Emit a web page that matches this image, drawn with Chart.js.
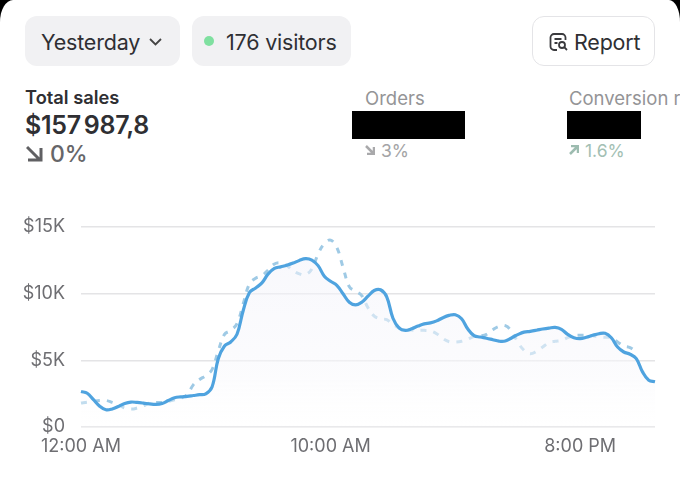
<!DOCTYPE html>
<html>
<head>
<meta charset="utf-8">
<title>Total sales</title>
<script src="https://cdn.jsdelivr.net/npm/chart.js@4"></script>
<style>
  html, body { margin: 0; padding: 0; background: #000; }
  #page {
    position: relative; width: 680px; height: 481px; overflow: hidden; background: #fff;
    border-top-left-radius: 13px 22px; border-top-right-radius: 11px 22px;
    font-family: Inter, "Noto Sans", sans-serif; color: #2f2f33;
  }
  .abs { position: absolute; white-space: nowrap; }
  .pill { background: #f1f1f3; border-radius: 12px; height: 50px; top: 16px; }
  .btn { left: 532px; top: 16px; width: 121px; height: 48px; border: 1px solid #e4e4e7; border-radius: 12px; }
  .pilltext { font-size: 21.5px; line-height: 50px; top: 17px; letter-spacing: -0.2px; }
  .head { font-size: 18.5px; line-height: 22px; top: 87px; color: #949496; }
  .delta { font-size: 17.5px; line-height: 22px; top: 140px; }
  .black { background: #000; top: 111px; height: 28px; }
  #chartbox { position: absolute; left: 0; top: 200px; width: 680px; height: 281px; }
</style>
</head>
<body>
<div id="page">
  <div class="abs pill" style="left:25px;width:155px"></div>
  <div class="abs pill" style="left:192px;width:159px"></div>
  <div class="abs btn"></div>
  <div class="abs pilltext" style="left:41px">Yesterday</div>
  <svg class="abs" style="left:148px;top:37px" width="15" height="10" viewBox="0 0 15 10"><path d="M2 2l5.5 5.5L13 2" fill="none" stroke="#444" stroke-width="1.8"/></svg>
  <div class="abs" style="left:204px;top:36px;width:10px;height:10px;border-radius:50%;background:#7fe0a0"></div>
  <div class="abs pilltext" style="left:226px">176 visitors</div>
  <svg class="abs" style="left:549px;top:32px" width="20" height="20" viewBox="0 0 20 20" fill="none" stroke="#3a3a3e" stroke-width="1.8">
    <path d="M8 18H5a3.500 3.500 0 0 1-3.500-3.500v-9A3.500 3.500 0 0 1 5 2h8a3.500 3.500 0 0 1 3.500 3.500V8"/>
    <path d="M5.500 7h7M5.500 11h3"/><circle cx="13" cy="13" r="3"/><path d="M15.200 15.200l2.800 2.800"/>
  </svg>
  <div class="abs pilltext" style="left:574px">Report</div>

  <div class="abs" style="left:25px;top:86px;font-size:18.300px;line-height:22px;font-weight:600">Total sales</div>
  <div class="abs" style="left:25px;top:111px;font-size:25px;line-height:28px;font-weight:600;letter-spacing:-0.3px;word-spacing:-3px">$157 987,8</div>
  <svg class="abs" style="left:26px;top:145px" width="17" height="17" viewBox="0 0 17 17" fill="none" stroke="#606063" stroke-width="3"><path d="M1 2l13 13M15 3v12H2"/></svg>
  <div class="abs" style="left:50px;top:140px;font-size:23px;line-height:28px;font-weight:500;color:#666669">0%</div>

  <div class="abs head" style="left:365px">Orders</div>
  <div class="abs black" style="left:352px;width:113px"></div>
  <svg class="abs" style="left:365px;top:145px" width="10" height="10" viewBox="0 0 10 10" fill="none" stroke="#a9a9ab" stroke-width="2.500"><path d="M1 1l7 7M9 2v7H2"/></svg>
  <div class="abs delta" style="left:381px;color:#a4a4a6">3%</div>

  <div class="abs head" style="left:569px">Conversion rate</div>
  <div class="abs black" style="left:567px;width:74px"></div>
  <svg class="abs" style="left:569px;top:145px" width="10" height="10" viewBox="0 0 10 10" fill="none" stroke="#9dbcb0" stroke-width="2.500"><path d="M1 9l7-7M2 1h7v7"/></svg>
  <div class="abs delta" style="left:585px;color:#a3bfb4">1.6%</div>

  <div id="chartbox"><canvas id="salesChart"></canvas></div>
</div>
<script>
const times = [
  "12:00 AM","12:15 AM","12:30 AM","12:45 AM","1:00 AM","1:15 AM","1:30 AM","1:45 AM",
  "2:00 AM","2:15 AM","2:30 AM","2:45 AM","3:00 AM","3:15 AM","3:30 AM","3:45 AM",
  "4:00 AM","4:15 AM","4:30 AM","4:45 AM","5:00 AM","5:15 AM","5:30 AM","5:45 AM",
  "6:00 AM","6:15 AM","6:30 AM","6:45 AM","7:00 AM","7:15 AM","7:30 AM","7:45 AM",
  "8:00 AM","8:15 AM","8:30 AM","8:45 AM","9:00 AM","9:15 AM","9:30 AM","9:45 AM",
  "10:00 AM","10:15 AM","10:30 AM","10:45 AM","11:00 AM","11:15 AM","11:30 AM","11:45 AM",
  "12:00 PM","12:15 PM","12:30 PM","12:45 PM","1:00 PM","1:15 PM","1:30 PM","1:45 PM",
  "2:00 PM","2:15 PM","2:30 PM","2:45 PM","3:00 PM","3:15 PM","3:30 PM","3:45 PM",
  "4:00 PM","4:15 PM","4:30 PM","4:45 PM","5:00 PM","5:15 PM","5:30 PM","5:45 PM",
  "6:00 PM","6:15 PM","6:30 PM","6:45 PM","7:00 PM","7:15 PM","7:30 PM","7:45 PM",
  "8:00 PM","8:15 PM","8:30 PM","8:45 PM","9:00 PM","9:15 PM","9:30 PM","9:45 PM",
  "10:00 PM","10:15 PM","10:30 PM","10:45 PM","11:00 PM"
];
const shownTimes = ["12:00 AM", "10:00 AM", "8:00 PM"];

// values in dollars
const yesterday = [
  2660,2530,2050,1560,1290,1350,1540,1760,1870,1840,1790,1730,
  1690,1760,1990,2190,2260,2300,2360,2420,2490,3000,5120,6070,
  6370,6950,8730,10070,10420,10800,11470,11880,12000,12120,12280,12480,
  12610,12510,12090,11300,10920,10620,9980,9350,9150,9350,9800,10230,
  10280,9750,8150,7410,7240,7360,7560,7730,7800,7950,8190,8360,
  8410,8110,7340,6850,6740,6650,6540,6430,6440,6670,6920,7110,
  7170,7250,7340,7410,7460,7320,6940,6690,6620,6720,6870,6990,
  7020,6690,5990,5620,5450,5120,4130,3500,3390
];
const previous = [
  1790,1850,1920,1990,1990,1840,1670,1420,1340,1420,1590,1790,
  1840,1840,1920,2040,2160,2410,3160,3560,3850,4300,5690,6940,
  7240,7740,9230,10720,11150,11340,11770,12210,12290,12090,11720,11470,
  11420,11840,12960,13750,14000,13460,11970,10520,10170,9850,8930,8310,
  8110,8040,7690,7430,7310,7260,7240,7240,7190,6990,6620,6390,
  6370,6420,6590,6770,6820,6940,7290,7540,7590,7190,6370,5750,
  5490,5670,5990,6320,6420,6490,6690,6840,6870,6870,6840,6770,
  6720,6690,6370,6070,5950,5620,null,null,null
];

const ctx = document.getElementById("salesChart").getContext("2d");
const fade = ctx.createLinearGradient(0, 60, 0, 227);
fade.addColorStop(0, "rgba(243,243,250,0.55)");
fade.addColorStop(0.7, "rgba(249,249,252,0.55)");
fade.addColorStop(1, "rgba(255,255,255,0.2)");

new Chart(ctx, {
  type: "line",
  data: {
    labels: times,
    datasets: [{
      label: "Yesterday",
      data: yesterday,
      borderColor: "#4fa3df",
      borderWidth: 3.2,
      backgroundColor: fade,
      fill: true,
      pointRadius: 0,
      tension: 0.4,
      order: 1
    }, {
      label: "Previous",
      data: previous,
      borderColor: "#9fcae5",
      borderWidth: 3,
      borderDash: [6, 7],
      fill: false,
      pointRadius: 0,
      tension: 0.4,
      order: 2
    }]
  },
  options: {
    responsive: true,
    maintainAspectRatio: false,
    animation: false,
    layout: { padding: { top: 26, right: 25, left: 0, bottom: 0 } },
    plugins: { legend: { display: false }, tooltip: { enabled: false } },
    scales: {
      x: {
        offset: false,
        grid: { display: false },
        border: { display: false },
        afterFit: scale => { scale.height = 54; },
        ticks: {
          autoSkip: false,
          maxRotation: 0,
          padding: 1,
          color: "#6e6e72",
          font: { family: "Inter", size: 18 },
          callback: function (value) {
            const label = this.getLabelForValue(value);
            return shownTimes.includes(label) ? label : null;
          }
        }
      },
      y: {
        min: 0,
        max: 15000,
        grid: { color: "#e4e4e6", lineWidth: 1.5, drawTicks: false },
        border: { display: false },
        afterFit: scale => { scale.width = 81; },
        ticks: {
          stepSize: 5000,
          padding: 16,
          color: "#6e6e72",
          font: { family: "Inter", size: 18 },
          callback: value => value === 0 ? "$0" : "$" + value / 1000 + "K"
        }
      }
    }
  }
});
</script>
</body>
</html>
